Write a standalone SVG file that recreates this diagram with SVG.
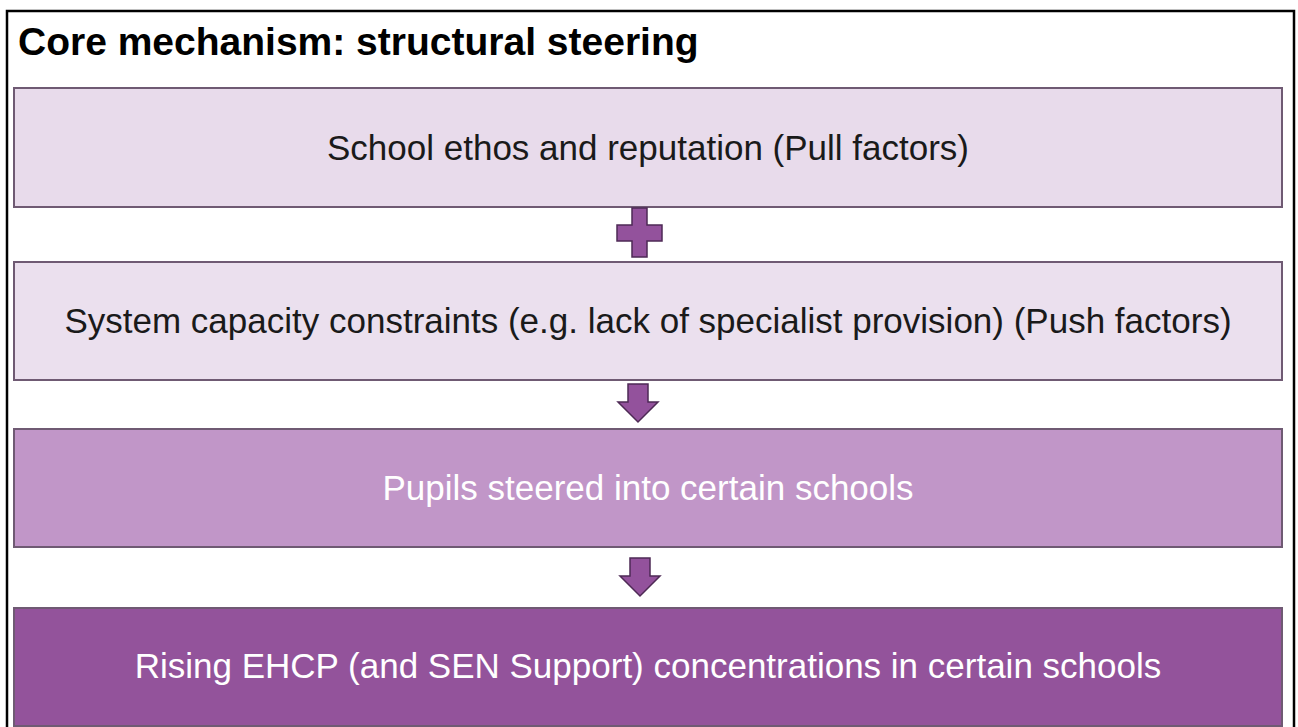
<svg xmlns="http://www.w3.org/2000/svg" width="1298" height="727" viewBox="0 0 1298 727">
<style>
.box{stroke:#6f5a73;stroke-width:2}
.t{font-family:"Liberation Sans",Arial,sans-serif;font-size:35px;text-anchor:middle}
.dark{fill:#1a1a1a}
.light{fill:#ffffff}
.sym{fill:#93529c;stroke:#4e2a55;stroke-width:1.5;stroke-linejoin:miter}
</style>
<rect x="0" y="0" width="1298" height="727" fill="#ffffff"/>
<rect x="7" y="11" width="1287" height="720" fill="#ffffff" stroke="#000000" stroke-width="2.5"/>
<text x="18" y="55" font-family="'Liberation Sans',Arial,sans-serif" font-size="39" font-weight="bold" fill="#000000">Core mechanism: structural steering</text>
<g id="n1">
<rect class="box" x="14" y="88" width="1268" height="119" fill="#e8dbeb"/>
<text class="t dark" x="648" y="160">School ethos and reputation (Pull factors)</text>
</g>
<g id="n2">
<rect class="box" x="14" y="262" width="1268" height="118" fill="#ebe0ee"/>
<text class="t dark" x="648" y="333">System capacity constraints (e.g. lack of specialist provision) (Push factors)</text>
</g>
<g id="n3">
<rect class="box" x="14" y="429" width="1268" height="118" fill="#c196c8"/>
<text class="t light" x="648" y="500">Pupils steered into certain schools</text>
</g>
<g id="n4">
<rect class="box" x="14" y="608" width="1268" height="118" fill="#93539b"/>
<text class="t light" x="648" y="678">Rising EHCP (and SEN Support) concentrations in certain schools</text>
</g>
<g id="connectors">
<path class="sym" d="M632,208 H647 V225 H662 V241 H647 V257 H632 V241 H617 V225 H632 Z"/>
<path class="sym" d="M628,384 H648 V402 H658 L638,422 L618,402 H628 Z"/>
<path class="sym" d="M630,558 H650 V576 H660 L640,596 L620,576 H630 Z"/>
</g>
</svg>
